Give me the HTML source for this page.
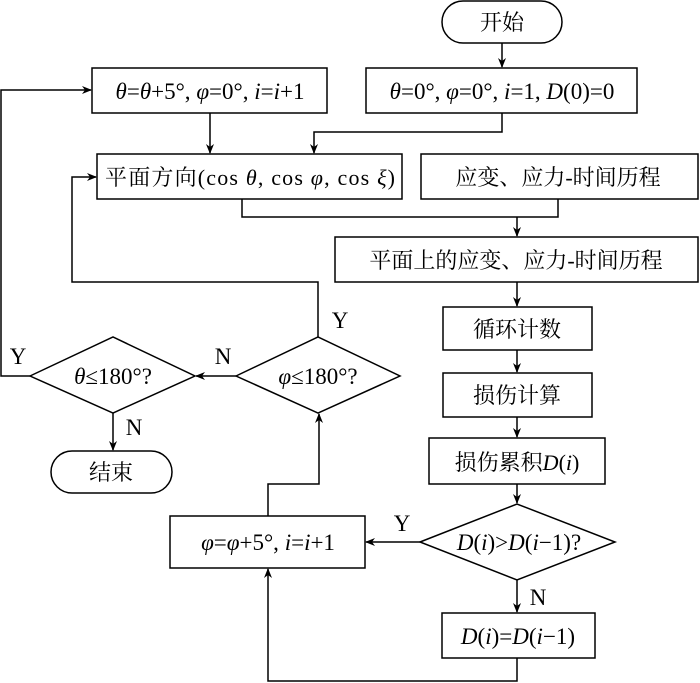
<!DOCTYPE html>
<html><head><meta charset="utf-8"><style>
html,body{margin:0;padding:0;background:#fff}
svg{display:block}
text{font-family:"Liberation Serif","Noto Serif CJK SC",serif;font-size:22px;fill:#000}
.l{font-size:23px}
.i{font-style:italic}
</style></head><body>
<svg width="700" height="683" viewBox="0 0 700 683" xmlns="http://www.w3.org/2000/svg">
<defs><marker id="a" markerWidth="10" markerHeight="8" refX="9" refY="4" orient="auto" markerUnits="userSpaceOnUse"><path d="M0,0 L10,4 L0,8 L3,4 Z" fill="#000"/></marker></defs>
<g fill="none" stroke="#000" stroke-width="1.5">
<rect x="442" y="1" width="120" height="42" rx="21"/>
<rect x="92" y="68" width="235" height="45"/>
<rect x="366" y="68" width="271" height="45"/>
<rect x="97" y="154" width="305" height="45"/>
<rect x="421" y="154" width="277" height="45"/>
<rect x="335" y="237" width="363" height="45"/>
<rect x="443" y="307" width="149" height="43"/>
<rect x="443" y="373" width="149" height="44"/>
<rect x="429" y="438" width="176" height="46"/>
<polygon points="420,542 517,504 615,542 517,580"/>
<rect x="170" y="516" width="195" height="52"/>
<rect x="442" y="613" width="153" height="45"/>
<polygon points="30,376 113,337 195,376 113,413"/>
<polygon points="236,376 318,337 400,376 318,413"/>
<rect x="51" y="451" width="121" height="42" rx="21"/>
<path d="M502,43 V67" marker-end="url(#a)"/>
<path d="M210,113 V153" marker-end="url(#a)"/>
<path d="M502,113 V132 H314 V153" marker-end="url(#a)"/>
<path d="M242,199 V217 H558 V199"/>
<path d="M517,217 V236" marker-end="url(#a)"/>
<path d="M517,282 V306" marker-end="url(#a)"/>
<path d="M517,350 V372" marker-end="url(#a)"/>
<path d="M517,417 V437" marker-end="url(#a)"/>
<path d="M517,484 V503" marker-end="url(#a)"/>
<path d="M420,542 H366" marker-end="url(#a)"/>
<path d="M517,580 V612" marker-end="url(#a)"/>
<path d="M517,658 V681 H268 V569" marker-end="url(#a)"/>
<path d="M268,516 V484 H319 V414" marker-end="url(#a)"/>
<path d="M318,337 V282 H72 V177 H96" marker-end="url(#a)"/>
<path d="M236,376 H196" marker-end="url(#a)"/>
<path d="M30,376 H1 V90 H91" marker-end="url(#a)"/>
<path d="M113,413 V450" marker-end="url(#a)"/>
</g>
<text x="502" y="30" text-anchor="middle">开始</text>
<text class="l" x="210" y="99" text-anchor="middle"><tspan class="i">θ</tspan>=<tspan class="i">θ</tspan>+5°, <tspan class="i">φ</tspan>=0°, <tspan class="i">i</tspan>=<tspan class="i">i</tspan>+1</text>
<text class="l" x="502" y="99" text-anchor="middle"><tspan class="i">θ</tspan>=0°, <tspan class="i">φ</tspan>=0°, <tspan class="i">i</tspan>=1, <tspan class="i">D</tspan>(0)=0</text>
<text x="250" y="185" text-anchor="middle" textLength="290">平面方向(cos <tspan class="i">θ</tspan>, cos <tspan class="i">φ</tspan>, cos <tspan class="i">ξ</tspan>)</text>
<text x="558" y="185" text-anchor="middle">应变、应力-时间历程</text>
<text x="516" y="268" text-anchor="middle">平面上的应变、应力-时间历程</text>
<text x="517" y="337" text-anchor="middle">循环计数</text>
<text x="517" y="403" text-anchor="middle">损伤计算</text>
<text x="517" y="470" text-anchor="middle">损伤累积<tspan class="i">D</tspan>(<tspan class="i">i</tspan>)</text>
<text class="l" x="519" y="550" text-anchor="middle"><tspan class="i">D</tspan>(<tspan class="i">i</tspan>)&gt;<tspan class="i">D</tspan>(<tspan class="i">i</tspan>−1)?</text>
<text class="l" x="268" y="550" text-anchor="middle"><tspan class="i">φ</tspan>=<tspan class="i">φ</tspan>+5°, <tspan class="i">i</tspan>=<tspan class="i">i</tspan>+1</text>
<text class="l" x="518" y="644" text-anchor="middle"><tspan class="i">D</tspan>(<tspan class="i">i</tspan>)=<tspan class="i">D</tspan>(<tspan class="i">i</tspan>−1)</text>
<text class="l" x="113" y="384" text-anchor="middle"><tspan class="i">θ</tspan>≤180°?</text>
<text class="l" x="318" y="384" text-anchor="middle"><tspan class="i">φ</tspan>≤180°?</text>
<text x="111" y="480" text-anchor="middle">结束</text>
<text class="l" x="340" y="328" text-anchor="middle">Y</text>
<text class="l" x="18" y="364" text-anchor="middle">Y</text>
<text class="l" x="223" y="364" text-anchor="middle">N</text>
<text class="l" x="134" y="435" text-anchor="middle">N</text>
<text class="l" x="402" y="531" text-anchor="middle">Y</text>
<text class="l" x="538" y="605" text-anchor="middle">N</text>
</svg>
</body></html>
